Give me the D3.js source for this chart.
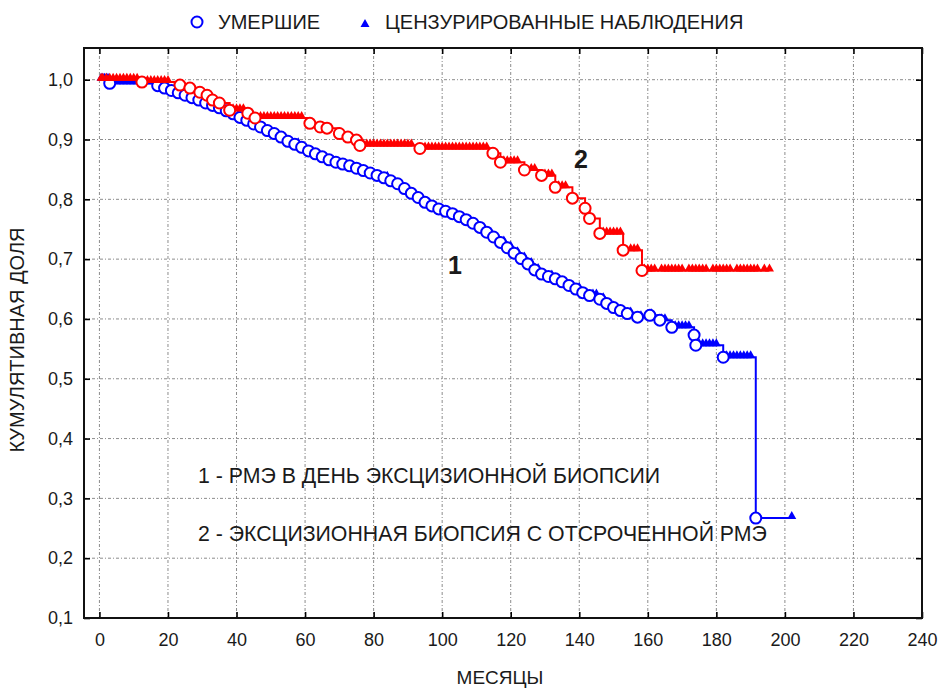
<!DOCTYPE html>
<html><head><meta charset="utf-8">
<script src="https://cdn.jsdelivr.net/npm/d3@7"></script>
<style>
body{margin:0;background:#fff;}
svg{display:block;font-family:"Liberation Sans",Arial,sans-serif;}
</style></head>
<body><svg id="c" width="942" height="689"></svg>
<script>
// ---- data ----
const xTicks = [0,20,40,60,80,100,120,140,160,180,200,220,240];
const yTicks = [0.1,0.2,0.3,0.4,0.5,0.6,0.7,0.8,0.9,1.0];
const legendLabels = ["УМЕРШИЕ", "ЦЕНЗУРИРОВАННЫЕ НАБЛЮДЕНИЯ"];
const noteLabels = ["1 - РМЭ В ДЕНЬ ЭКСЦИЗИОННОЙ БИОПСИИ", "2 - ЭКСЦИЗИОННАЯ БИОПСИЯ С ОТСРОЧЕННОЙ РМЭ"];
const xTitle = "МЕСЯЦЫ";
const yTitle = "КУМУЛЯТИВНАЯ ДОЛЯ";

// Group 1 (blue): death times (months) and cumulative proportion after each death
const deathT1 = [3,17,19,21,23,25,27,29,31,33,35,37,39,41,43,45,47,49,51,53,55,57,59,61,63,65,67,69,71,73,75,77,79,81,83,85,87,89,91,93,95,97,99,101,103,105,107,109,111,113,115,117,119,121,123,125,127,129,131,133,135,137,139,141,143,146,148,150,152,154,157,160.6,163.5,167,173.5,174,182,191.5];
const deathS1 = [0.994,0.99,0.986,0.982,0.978,0.974,0.970,0.966,0.961,0.957,0.953,0.948,0.943,0.937,0.932,0.926,0.921,0.915,0.910,0.904,0.897,0.892,0.887,0.881,0.876,0.871,0.866,0.862,0.859,0.856,0.852,0.848,0.844,0.840,0.836,0.831,0.826,0.818,0.810,0.803,0.795,0.789,0.784,0.780,0.776,0.771,0.766,0.760,0.753,0.745,0.737,0.728,0.719,0.710,0.701,0.692,0.682,0.675,0.671,0.667,0.662,0.656,0.650,0.644,0.639,0.633,0.626,0.619,0.614,0.609,0.603,0.606,0.598,0.586,0.573,0.556,0.536,0.267];
const censT1 = [0.5,1,1.5,2,2.5,3.5,5,6,7,8,9,10,11,12,13,14,15,36,44,58,84,118,120,122,124,126,128,132,140,144,145,147,150,155,158,161,164,165,168,169,170,171,172,175,176,177,178,179,180,183,184,185,186,187,188,189,190,202];

// Group 2 (red)
const deathT2 = [12.4,23.5,26.4,29.3,31.4,33,35,38,43.3,45.4,61.4,64.4,66.4,70,72.5,75,76,93.5,114.8,117,124,129,133,138,141.7,143,146,152.8,158.3];
const deathS2 = [0.996,0.991,0.986,0.979,0.974,0.966,0.961,0.949,0.944,0.936,0.927,0.921,0.919,0.910,0.904,0.899,0.890,0.885,0.877,0.862,0.849,0.840,0.820,0.802,0.785,0.768,0.743,0.715,0.681];
const censT2 = [0.5,1,2,3,4,5,6,7,8,9,10,11,14,15,16,17,18,19,20,39,40,41,42,47,48,49,50,51,52,53,54,55,56,57,58,59,77,78,79,80,81,82,83,84,85,86,87,88,89,90,91,95,96,97,98,99,100,101,102,103,104,105,106,107,108,109,110,111,112,113,118,119,120,121,122,126,127,130,131,132,134,135,136,147,148,149,150,151,152,155,156,157,159,160,161,162,164,165,166,167,168,169,170,172,173,174,175,176,177,179,180,181,182,183,184,186,187,188,189,190,191,192,194,195.5];

// ---- drawing ----
const svg = d3.select("#c");
const x = d3.scaleLinear().domain([-4.5, 240]).range([84, 922]);
const y = d3.scaleLinear().domain([0.1, 1.053]).range([618, 48]);
const textCol = "#1a1a1a";

// grid
const grid = svg.append("g").attr("stroke", "#8c8c8c").attr("stroke-width", 1).attr("stroke-dasharray", "3,2,1,2");
grid.selectAll("line.v").data(xTicks.filter(d => d < 240)).enter().append("line")
  .attr("x1", d => x(d)).attr("x2", d => x(d)).attr("y1", y(1.053)).attr("y2", y(0.1));
grid.selectAll("line.h").data(yTicks.filter(d => d > 0.1)).enter().append("line")
  .attr("y1", d => y(d)).attr("y2", d => y(d)).attr("x1", x(-4.5)).attr("x2", x(240));

// axes
function styleAxis(g, labels) {
  g.select(".domain").remove();
  g.selectAll(".tick line").attr("stroke", "#000").attr("stroke-width", 1.6);
  g.selectAll(".tick text").attr("fill", textCol).style("font-size", "18px")
    .style("font-family", "'Liberation Sans',Arial,sans-serif");
  if (!labels) g.selectAll(".tick text").remove();
}
const fmt = d => d3.format(".1f")(d).replace(".", ",");
svg.append("g").attr("transform", `translate(0,${y(0.1)})`)
  .call(d3.axisBottom(x).tickValues(xTicks).tickSizeInner(-6).tickSizeOuter(0).tickPadding(15))
  .call(g => styleAxis(g, true));
svg.append("g").attr("transform", `translate(0,${y(1.053)})`)
  .call(d3.axisTop(x).tickValues(xTicks).tickSizeInner(-6).tickSizeOuter(0))
  .call(g => styleAxis(g, false));
svg.append("g").attr("transform", `translate(${x(-4.5)},0)`)
  .call(d3.axisLeft(y).tickValues(yTicks).tickFormat(fmt).tickSizeInner(-6).tickSizeOuter(0).tickPadding(11))
  .call(g => styleAxis(g, true));
svg.append("g").attr("transform", `translate(${x(240)},0)`)
  .call(d3.axisRight(y).tickValues(yTicks).tickSizeInner(-6).tickSizeOuter(0))
  .call(g => styleAxis(g, false));

// frame
svg.append("rect").attr("x", x(-4.5)).attr("y", y(1.053))
  .attr("width", x(240) - x(-4.5)).attr("height", y(0.1) - y(1.053))
  .attr("fill", "none").attr("stroke", "#111").attr("stroke-width", 2);

// KM curves
function survAt(t, T, S) {
  let s = 1;
  for (let i = 0; i < T.length; i++) if (T[i] <= t) s = S[i];
  return s;
}
const line = d3.line().x(d => x(d[0])).y(d => y(d[1])).curve(d3.curveStepAfter);
const triPath = "M0,-7L4.5,1L-4.5,1Z";

function drawGroup(T, S, C, color) {
  const g = svg.append("g");
  const tEnd = Math.max(d3.max(T), d3.max(C));
  const pts = [[0, 1]].concat(T.map((t, i) => [t, S[i]]));
  pts.push([tEnd, S[S.length - 1]]);
  g.append("path").attr("d", line(pts)).attr("fill", "none").attr("stroke", color).attr("stroke-width", 2);
  g.selectAll("path.tri").data(C).enter().append("path")
    .attr("d", triPath)
    .attr("transform", d => `translate(${x(d)},${y(survAt(d, T, S))})`)
    .attr("fill", color);
  g.selectAll("circle").data(T).enter().append("circle")
    .attr("cx", d => x(d)).attr("cy", (d, i) => y(S[i])).attr("r", 5.5)
    .attr("fill", "#fff").attr("stroke", color).attr("stroke-width", 2);
}
drawGroup(deathT1, deathS1, censT1, "#0000ff");
drawGroup(deathT2, deathS2, censT2, "#ff0000");

// curve labels
svg.append("text").attr("x", 455).attr("y", 274).attr("text-anchor", "middle")
  .style("font-size", "25px").style("font-weight", "bold").attr("fill", textCol).text("1");
svg.append("text").attr("x", 581).attr("y", 168).attr("text-anchor", "middle")
  .style("font-size", "25px").style("font-weight", "bold").attr("fill", textCol).text("2");

// notes
svg.selectAll("text.note").data(noteLabels).enter().append("text")
  .attr("x", 198).attr("y", (d, i) => 483 + i * 58)
  .style("font-size", "21.3px").attr("fill", textCol).text(d => d);

// legend
svg.append("circle").attr("cx", 197).attr("cy", 22).attr("r", 5.5)
  .attr("fill", "#fff").attr("stroke", "#0000ff").attr("stroke-width", 2);
svg.append("path").attr("d", triPath).attr("transform", "translate(365,26)").attr("fill", "#0000ff");
svg.append("text").attr("x", 218).attr("y", 29).style("font-size", "20px").attr("fill", textCol).text(legendLabels[0]);
svg.append("text").attr("x", 385).attr("y", 29).style("font-size", "20px").attr("fill", textCol).text(legendLabels[1]);

// axis titles
svg.append("text").attr("x", 500).attr("y", 684).attr("text-anchor", "middle")
  .style("font-size", "19px").attr("fill", textCol).text(xTitle);
svg.append("text").attr("transform", "translate(24,340) rotate(-90)").attr("text-anchor", "middle")
  .style("font-size", "20px").attr("fill", textCol).text(yTitle);
</script>
</body></html>
